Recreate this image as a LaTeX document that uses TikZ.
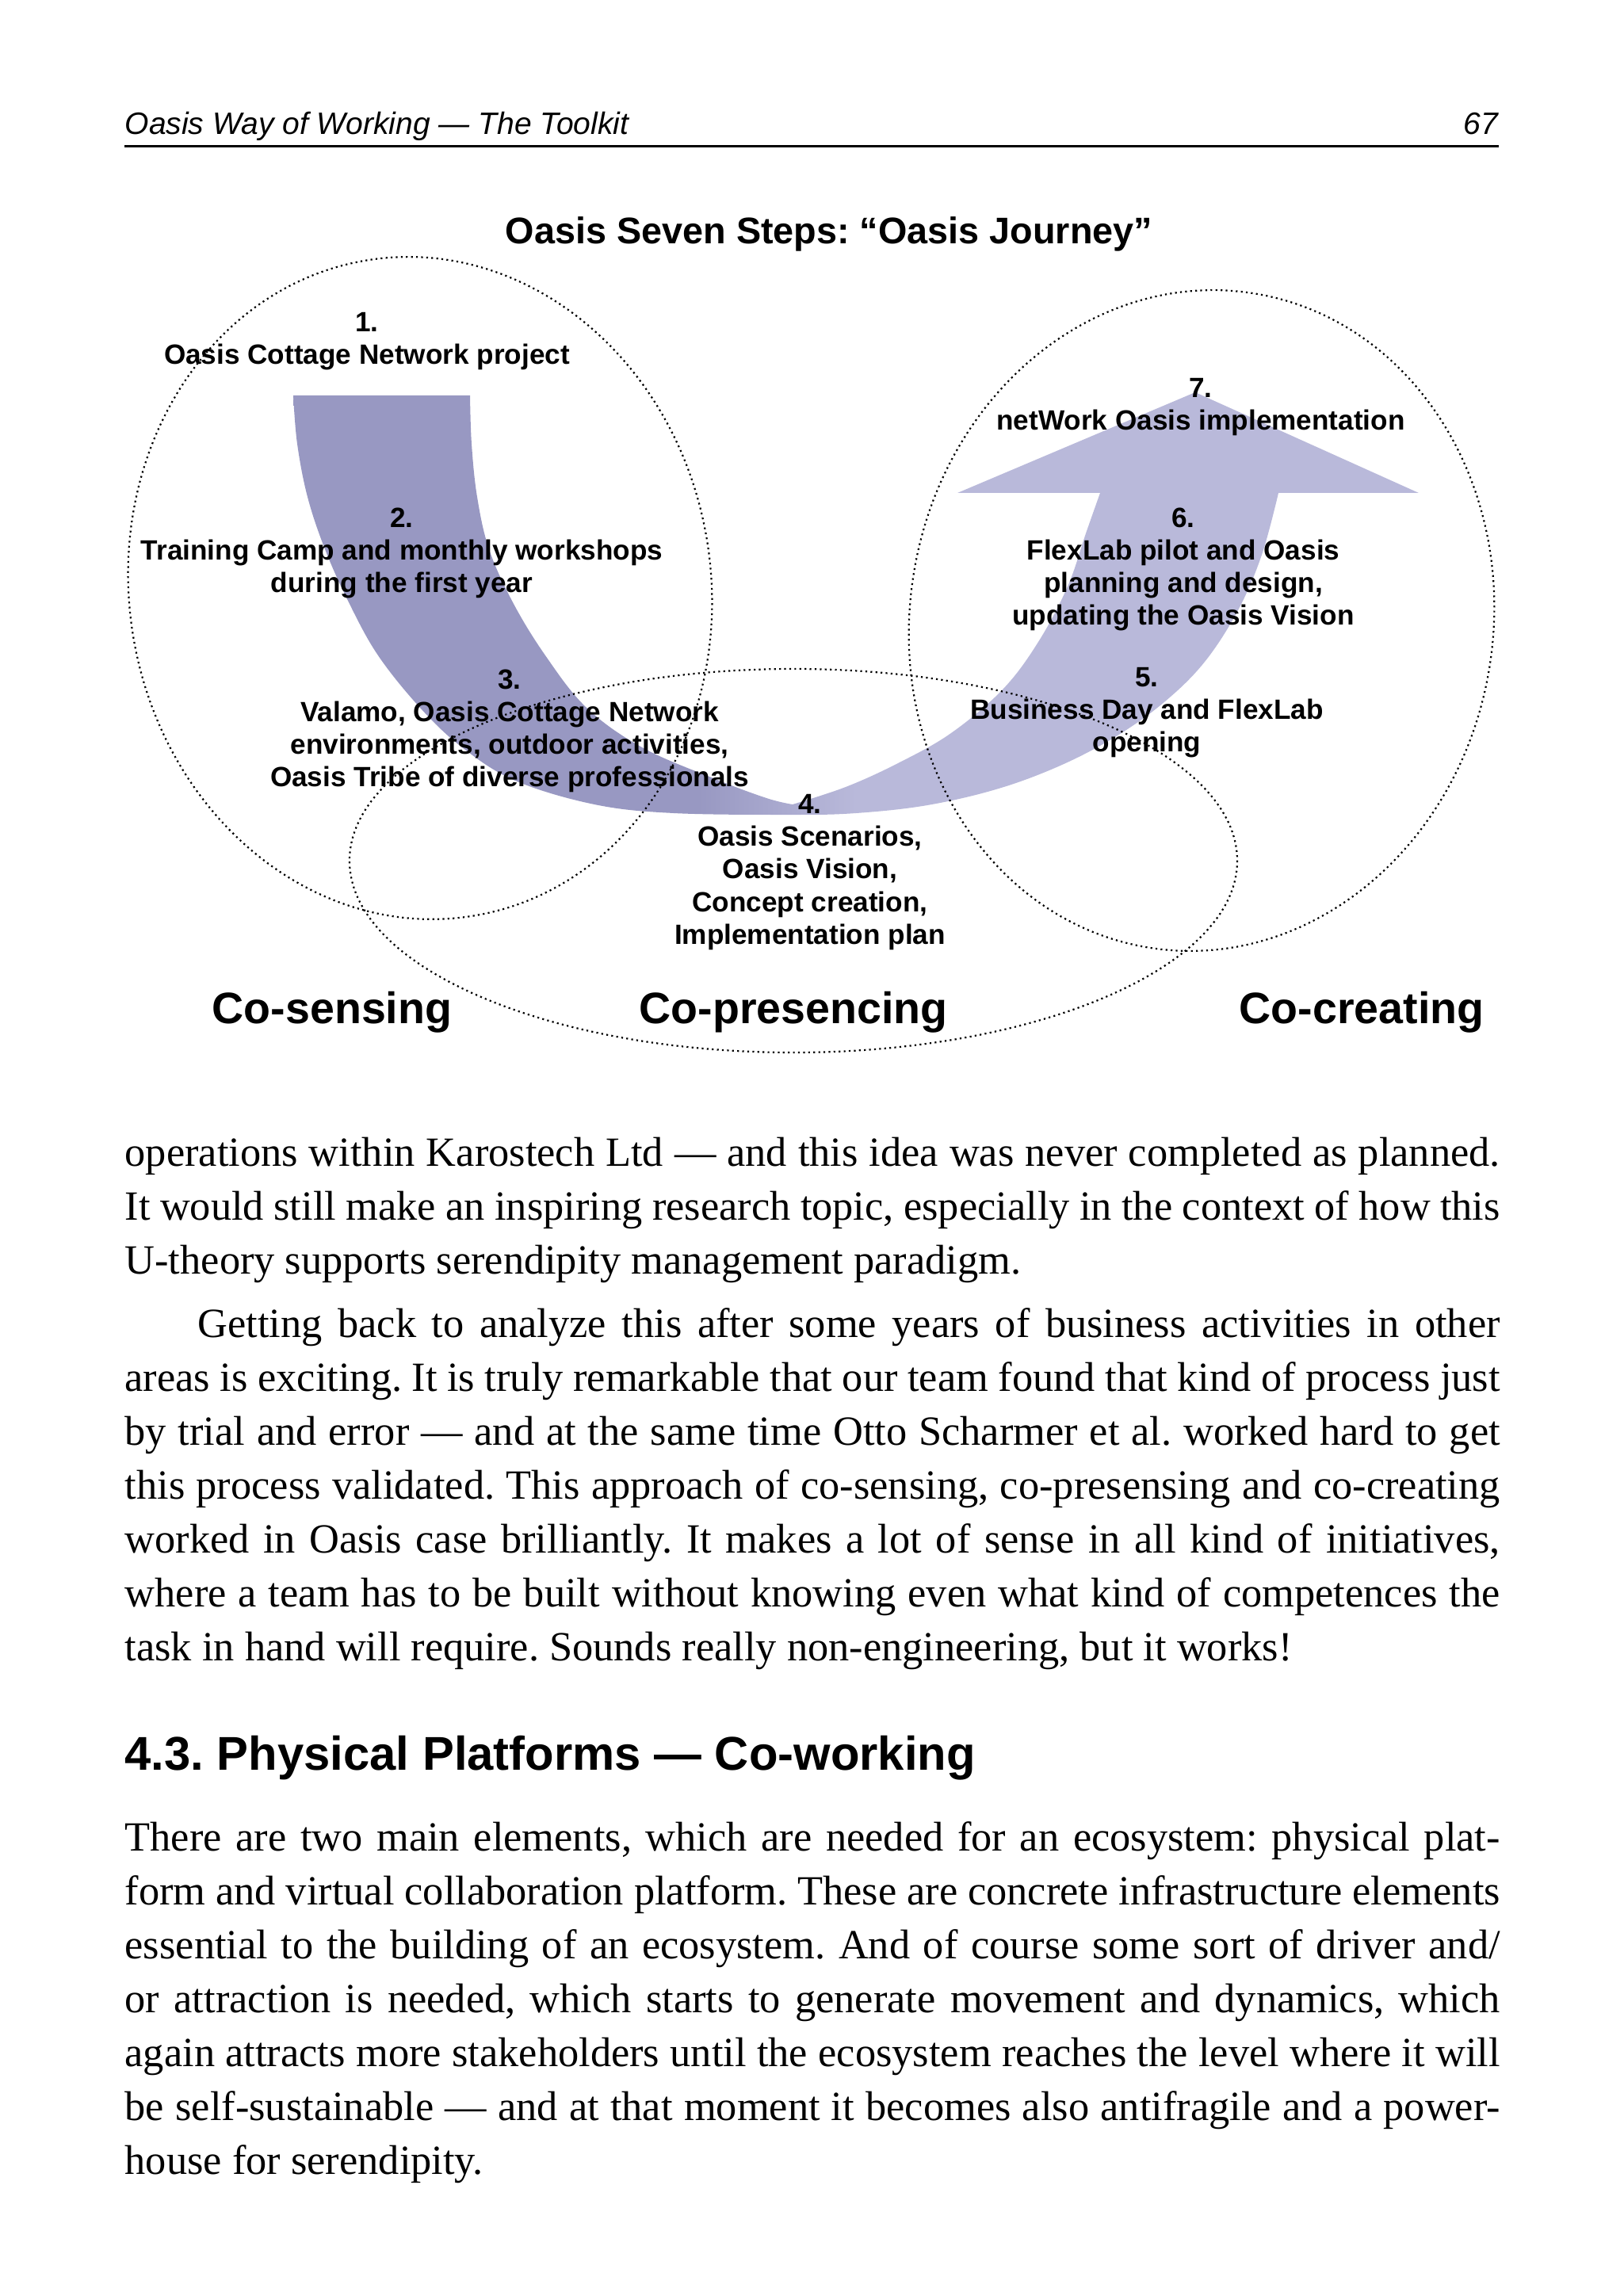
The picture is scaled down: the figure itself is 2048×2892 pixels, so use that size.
\documentclass[tikz,border=0pt]{standalone}
\usepackage{fontspec}
\setmainfont{Liberation Serif}
\newfontfamily\arialfont{Liberation Sans}
\usepackage{xcolor}
\usepackage{tikz}
\definecolor{udark}{HTML}{9898C2}
\definecolor{ulight}{HTML}{B9B9DA}
\pgfdeclarehorizontalshading{ushade}{100bp}{color(0bp)=(udark); color(43bp)=(udark); color(50bp)=(ulight); color(100bp)=(ulight)}
\newcommand{\jl}[1]{\hbox to 17.34cm{#1}}
\frenchspacing

\begin{document}
\begin{tikzpicture}[x=0.01cm,y=-0.01cm,
  ring/.style={line width=0.022cm,dash pattern=on 0.022cm off 0.042cm},
  stepnote/.style={font=\arialfont\bfseries\fontsize{10}{11.67}\selectfont,align=center,inner sep=0pt,anchor=north},
  phase/.style={font=\arialfont\bfseries\fontsize{15.8}{18}\selectfont,inner sep=0pt,anchor=base},
  body/.style={inner sep=0pt,anchor=base west,font=\fontsize{14.9}{19.35}\selectfont}
]
\useasboundingbox (0,0) rectangle (2048,2892);

% running head
\node[anchor=base west,inner sep=0pt,font=\arialfont\itshape\fontsize{11.1}{13}\selectfont] (hdr) at (157,170) {Oasis Way of Working — The Toolkit};
\node[anchor=base east,inner sep=0pt,font=\arialfont\itshape\fontsize{11.1}{13}\selectfont] (pageno) at (1891,170) {67};
\draw[line width=0.03cm] (157,185) -- (1891,185);

% the U band
\shade[shading=ushade] (370,499) -- (593,499)
  -- plot[smooth,tension=0.6] coordinates {(593,499) (595,560) (602,627) (617,693) (647,760) (688,827) (740,893) (810,943) (900,982) (967,1007) (1000,1015)}
  -- plot[smooth,tension=0.6] coordinates {(1000,1015) (1067,993) (1133,963) (1200,925) (1265,870) (1310,810) (1347,740) (1370,673) (1388,622)}
  -- (1208,622) -- (1508,495) -- (1790,622) -- (1613,622)
  -- plot[smooth,tension=0.6] coordinates {(1613,622) (1592,700) (1562,770) (1520,835) (1470,885) (1410,928) (1340,965) (1260,995) (1170,1016) (1080,1026) (1000,1028) (850,1026) (750,1015) (650,985) (583,943) (530,893) (477,827) (440,760) (410,693) (388,627) (375,560) (370,499)}
  -- cycle;

% the three phases
\draw[ring,rotate around={9:(530,742)}] (530,742) ellipse [x radius=367, y radius=419];
\draw[ring,rotate around={-9:(1516,783)}] (1516,783) ellipse [x radius=368, y radius=418];
\draw[ring] (1001,1086) ellipse [x radius=560, y radius=242];

\node[inner sep=0pt,font=\arialfont\bfseries\fontsize{13.3}{16}\selectfont] (title) at (1046,295) {Oasis Seven Steps: “Oasis Journey”};

\node[stepnote] (s1) at (463,394) {1.\\Oasis Cottage Network project};
\node[stepnote] (s2) at (507,640) {2.\\Training Camp and monthly workshops\\during the first year};
\node[stepnote] (s3) at (643,844) {3.\\Valamo, Oasis Cottage Network\\environments, outdoor activities,\\Oasis Tribe of diverse professionals};
\node[stepnote] (s4) at (1022,1002) {4.\\Oasis Scenarios,\\Oasis Vision,\\Concept creation,\\Implementation plan};
\node[stepnote] (s5) at (1447,842) {5.\\Business Day and FlexLab\\opening};
\node[stepnote] (s6) at (1493,640) {6.\\FlexLab pilot and Oasis\\planning and design,\\updating the Oasis Vision};
\node[stepnote] (s7) at (1515,477) {7.\\netWork Oasis implementation};

\node[phase] (sensing) at (419,1291) {Co-sensing};
\node[phase] (presencing) at (1001,1291) {Co-presencing};
\node[phase] (creating) at (1718,1291) {Co-creating};

% body text
\node[body] (para1) at (157,1471) {\vtop{%
\jl{operations within Karostech Ltd — and this idea was never completed as planned.}
\jl{It would still make an inspiring research topic, especially in the context of how this}
\hbox{U-theory supports serendipity management paradigm.}}};
\node[body] (para2) at (157,1687) {\vtop{%
\jl{\hskip0.92cm Getting back to analyze this after some years of business activities in other}
\jl{areas is exciting. It is truly remarkable that our team found that kind of process just}
\jl{by trial and error — and at the same time Otto Scharmer et al. worked hard to get}
\jl{this process validated. This approach of co-sensing, co-presensing and co-creating}
\jl{worked in Oasis case brilliantly. It makes a lot of sense in all kind of initiatives,}
\jl{where a team has to be built without knowing even what kind of competences the}
\hbox{task in hand will require. Sounds really non-engineering, but it works!}}};
\node[anchor=base west,inner sep=0pt,font=\arialfont\bfseries\fontsize{17}{20}\selectfont] (sec) at (157,2233) {4.3. Physical Platforms — Co-working};
\node[body] (para3) at (157,2335) {\vtop{%
\jl{There are two main elements, which are needed for an ecosystem: physical plat-}
\jl{form and virtual collaboration platform. These are concrete infrastructure elements}
\jl{essential to the building of an ecosystem. And of course some sort of driver and/}
\jl{or attraction is needed, which starts to generate movement and dynamics, which}
\jl{again attracts more stakeholders until the ecosystem reaches the level where it will}
\jl{be self-sustainable — and at that moment it becomes also antifragile and a power-}
\hbox{house for serendipity.}}};
\end{tikzpicture}
\end{document}
